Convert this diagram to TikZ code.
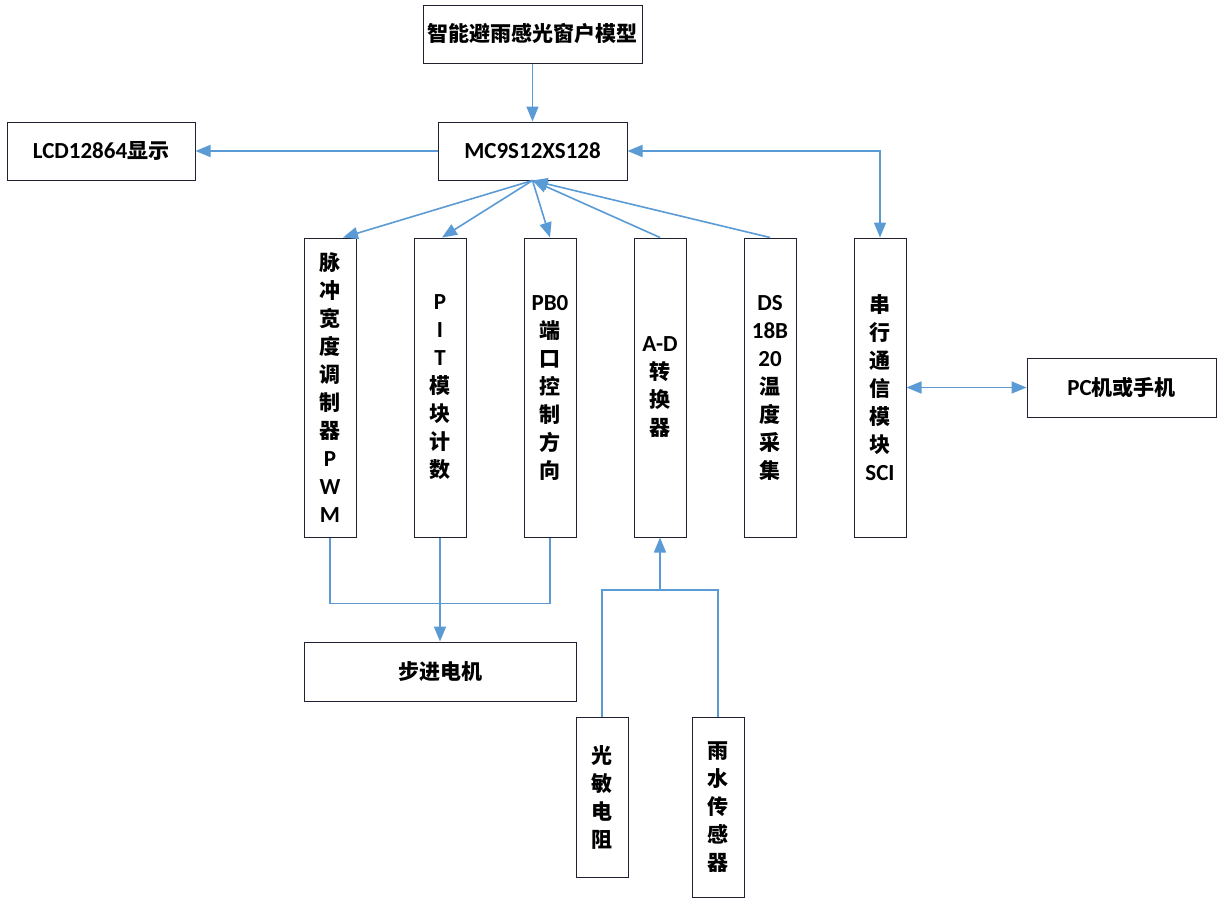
\documentclass[tikz,border=0pt]{standalone}
\usepackage{fontspec}
\setmainfont{Carlito}
\newfontfamily\cjk{Noto Sans CJK SC}
\newfontfamily\lat{Carlito}
\usetikzlibrary{arrows.meta,calc}
\definecolor{lineblue}{HTML}{5B9BD5}
\definecolor{boxline}{HTML}{202030}
\newcommand{\La}[1]{{\fontsize{23}{28}\selectfont\lat #1}}
\tikzset{
  box/.style={draw=boxline,line width=1pt,fill=white,inner sep=0pt,align=center,
    font={\fontsize{21}{28}\selectfont\bfseries\cjk}},
  conn/.style={draw=lineblue,line width=1.6pt},
  arr/.style={conn,-{Triangle[length=15pt,width=12pt]}},
  darr/.style={conn,{Triangle[length=15pt,width=12pt]}-{Triangle[length=15pt,width=12pt]}}
}
\begin{document}
\begin{tikzpicture}[x=1pt,y=-1pt]
\fill[white] (0,0) rectangle (1224,908);
\useasboundingbox (0,0) rectangle (1224,908);
% top row
\node[box,minimum width=219pt,minimum height=58pt] (top) at (532.5,34) {智能避雨感光窗户模型};
\node[box,minimum width=189pt,minimum height=58pt] (mc) at (532.5,151) {\La{MC9S12XS128}};
\node[box,minimum width=188pt,minimum height=58pt] (lcd) at (101,151) {\La{LCD12864}显示};
% vertical modules
\node[box,minimum width=52pt,minimum height=299pt] (pwm) at (330,387.5) {脉\\冲\\宽\\度\\调\\制\\器\\\La{P}\\\La{W}\\\La{M}};
\node[box,minimum width=52pt,minimum height=299pt] (pit) at (440,387.5) {\La{P}\\\La{I}\\\La{T}\\模\\块\\计\\数};
\node[box,minimum width=52pt,minimum height=299pt] (pb) at (550,387.5) {\La{PB0}\\端\\口\\控\\制\\方\\向};
\node[box,minimum width=52pt,minimum height=299pt] (ad) at (660,387.5) {\La{A-D}\\转\\换\\器};
\node[box,minimum width=52pt,minimum height=299pt] (ds) at (770,387.5) {\La{DS}\\\La{18B}\\\La{20}\\温\\度\\采\\集};
\node[box,minimum width=52pt,minimum height=299pt] (sci) at (880,387.5) {串\\行\\通\\信\\模\\块\\\La{SCI}};
\node[box,minimum width=189pt,minimum height=59pt] (pc) at (1121.5,387.5) {\La{PC}机或手机};
% bottom
\node[box,minimum width=272pt,minimum height=59pt] (motor) at (440,671.5) {步进电机};
\node[box,minimum width=52pt,minimum height=160pt] (gm) at (602,797) {光\\敏\\电\\阻};
\node[box,minimum width=52pt,minimum height=180pt] (ys) at (718,807) {雨\\水\\传\\感\\器};
% connectors
\draw[arr] (top.south) -- (mc.north);
\draw[arr] (mc.west) -- (lcd.east);
\draw[darr] (mc.east) -| (sci.north);
\draw[darr] (sci.east) -- (pc.west);
\draw[arr] (mc.south) -- ([xshift=13pt]pwm.north);
\draw[arr] (mc.south) -- ([xshift=2pt]pit.north);
\draw[arr] (mc.south) -- (pb.north);
\draw[arr] (ad.north) -- (mc.south);
\draw[arr] (ds.north) -- (mc.south);
\draw[conn] (pwm.south) -- ++(0,66) -| (pb.south);
\draw[arr] (pit.south) -- (pit.south |- motor.north);
\coordinate (j) at (660,590);
\draw[arr] (j) -- (ad.south);
\draw[conn] (gm.north) |- (ys.north |- j) -- (ys.north);
\end{tikzpicture}
\end{document}
